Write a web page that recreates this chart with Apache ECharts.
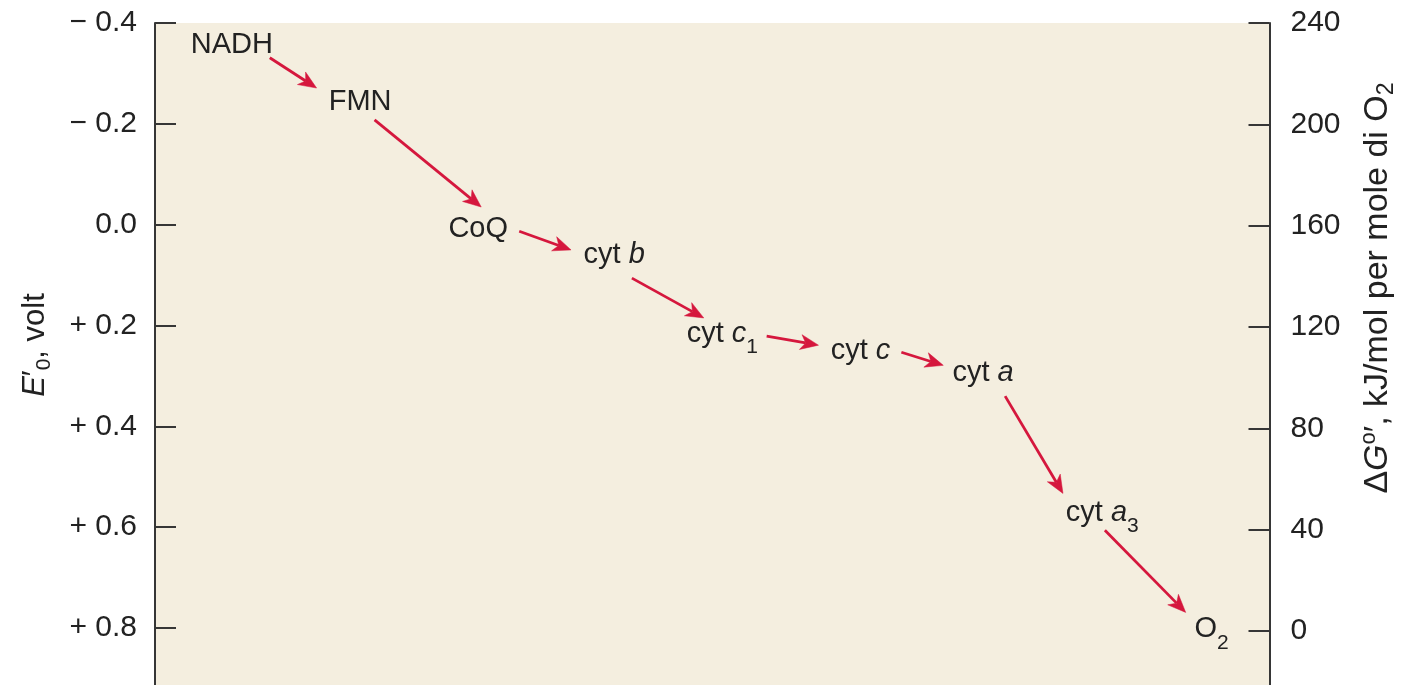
<!DOCTYPE html>
<html><head><meta charset="utf-8">
<script src="https://cdn.jsdelivr.net/npm/echarts@6/dist/echarts.min.js"></script>
<style>html,body{margin:0;padding:0;background:#fff}#c{width:1406px;height:685px}</style>
</head><body><div id="c"></div>
<script>
// ---- data ----
const carriers = ['NADH', 'FMN', 'CoQ', 'cyt b', 'cyt c1', 'cyt c', 'cyt a', 'cyt a3', 'O2'];
const carrierLabels = ['NADH', 'FMN', 'CoQ', 'cyt {i|b}', 'cyt {i|c}{sub|1}', 'cyt {i|c}', 'cyt {i|a}', 'cyt {i|a}{sub|3}', 'O{sub|2}'];
const carrierX = [6.9, 18.4, 29.0, 41.2, 50.9, 63.3, 74.3, 85.0, 94.8];
const carrierE = [-0.356, -0.243, 0.009, 0.061, 0.216, 0.250, 0.295, 0.571, 0.802];
const arrowFromX = [10.30, 19.70, 32.68, 42.79, 54.88, 66.97, 76.28, 85.23];
const arrowFromE = [-0.331, -0.208, 0.013, 0.106, 0.221, 0.253, 0.340, 0.606];
const arrowToX = [14.50, 29.27, 37.33, 49.24, 59.53, 70.73, 81.47, 92.48];
const arrowToE = [-0.271, -0.035, 0.050, 0.185, 0.239, 0.279, 0.533, 0.769];
const leftTicks = [-0.4, -0.2, 0, 0.2, 0.4, 0.6, 0.8];
const rightTicks = [0, 40, 80, 120, 160, 200, 240];
const eRange = [-0.4, 0.913];
const gRange = [-21.3, 240];

// ---- build ----
const FONT = '"Liberation Sans", Arial, Helvetica, sans-serif';
const TXT = '#222222';
const AXIS = '#363636';
const RED = '#d5173d';

const labelData = carriers.map((c, i) => ({ name: c, value: [carrierX[i], carrierE[i]] }));
const arrowData = arrowFromX.map((x, i) => [x, arrowFromE[i], arrowToX[i], arrowToE[i]]);

function fmtE(v) {
  if (Math.abs(v) < 1e-9) return '0.0';
  return (v < 0 ? '\u2212 ' : '+ ') + Math.abs(v).toFixed(1);
}

const chart = echarts.init(document.getElementById('c'), null, { renderer: 'canvas' });
chart.setOption({
  animation: false,
  backgroundColor: '#ffffff',
  grid: { left: 155, right: 134, top: 23, bottom: 0, show: true, backgroundColor: '#f4eedf', borderWidth: 0, containLabel: false },
  xAxis: { type: 'value', min: 0, max: 100, show: false },
  yAxis: [
    {
      type: 'value', position: 'left', inverse: true, min: eRange[0], max: eRange[1],
      axisLine: { show: true, onZero: false, lineStyle: { color: AXIS, width: 2 } },
      axisTick: { show: true, inside: true, length: 21, customValues: leftTicks, lineStyle: { color: AXIS, width: 2 } },
      axisLabel: { customValues: leftTicks, formatter: fmtE, margin: 18, fontSize: 30, color: TXT, fontFamily: FONT },
      splitLine: { show: false },
      name: '{i|E}\u2032{sub|0}, volt',
      nameLocation: 'middle', nameRotate: 90, nameGap: 104,
      nameTextStyle: {
        fontSize: 31, lineHeight: 31, color: TXT, fontFamily: FONT, padding: [0, 0, 0, 18],
        rich: {
          i: { fontSize: 31, lineHeight: 31, fontStyle: 'italic', color: TXT, fontFamily: FONT },
          sub: { fontSize: 21, lineHeight: 21, padding: [18, 0, 0, 0], verticalAlign: 'middle', color: TXT, fontFamily: FONT }
        }
      }
    },
    {
      type: 'value', position: 'right', min: gRange[0], max: gRange[1],
      axisLine: { show: true, onZero: false, lineStyle: { color: AXIS, width: 2 } },
      axisTick: { show: true, inside: true, length: 21, customValues: rightTicks, lineStyle: { color: AXIS, width: 2 } },
      axisLabel: { customValues: rightTicks, margin: 21, fontSize: 30, color: TXT, fontFamily: FONT },
      splitLine: { show: false },
      name: '\u0394{i|G}{sup|o}\u2032, kJ/mol per mole di O{sub|2}',
      nameLocation: 'middle', nameRotate: 90, nameGap: 91,
      nameTextStyle: {
        fontSize: 34, lineHeight: 34, color: TXT, fontFamily: FONT, padding: [0, 0, 0, 132],
        rich: {
          i: { fontSize: 34, lineHeight: 34, fontStyle: 'italic', color: TXT, fontFamily: FONT },
          sup: { fontSize: 22, lineHeight: 22, padding: [0, 0, 18, 0], verticalAlign: 'middle', color: TXT, fontFamily: FONT },
          sub: { fontSize: 23, lineHeight: 23, padding: [18, 0, 0, 0], verticalAlign: 'middle', color: TXT, fontFamily: FONT }
        }
      }
    }
  ],
  series: [
    {
      type: 'custom', xAxisIndex: 0, yAxisIndex: 0, silent: true, clip: false,
      data: arrowData,
      encode: { x: [0, 2], y: [1, 3] },
      renderItem: function (params, api) {
        const p1 = api.coord([api.value(0), api.value(1)]);
        const p2 = api.coord([api.value(2), api.value(3)]);
        const dx = p2[0] - p1[0], dy = p2[1] - p1[1];
        const len = Math.hypot(dx, dy);
        const ux = dx / len, uy = dy / len, nx = -uy, ny = ux;
        const hl = 18, hw = 7.5, nl = 13;
        const bx = p2[0] - ux * hl, by = p2[1] - uy * hl;
        const qx = p2[0] - ux * nl, qy = p2[1] - uy * nl;
        return {
          type: 'group',
          children: [
            { type: 'line', shape: { x1: p1[0], y1: p1[1], x2: qx, y2: qy }, style: { stroke: RED, lineWidth: 2.8 } },
            { type: 'polygon', shape: { points: [[p2[0], p2[1]], [bx + nx * hw, by + ny * hw], [qx, qy], [bx - nx * hw, by - ny * hw]] }, style: { fill: RED, stroke: RED, lineWidth: 0.5 } }
          ]
        };
      }
    },
    {
      type: 'scatter', xAxisIndex: 0, yAxisIndex: 0, silent: true,
      symbolSize: 1, itemStyle: { color: 'rgba(0,0,0,0)', opacity: 1 },
      data: labelData,
      label: {
        show: true, position: 'inside', opacity: 1,
        formatter: p => carrierLabels[p.dataIndex],
        fontSize: 29, lineHeight: 29, color: TXT, fontFamily: FONT,
        rich: {
          i: { fontSize: 29, lineHeight: 29, fontStyle: 'italic', color: TXT, fontFamily: FONT },
          sub: { fontSize: 21, lineHeight: 21, padding: [28, 0, 0, 0], verticalAlign: 'middle', color: TXT, fontFamily: FONT }
        }
      }
    }
  ]
});
</script>
</body></html>
